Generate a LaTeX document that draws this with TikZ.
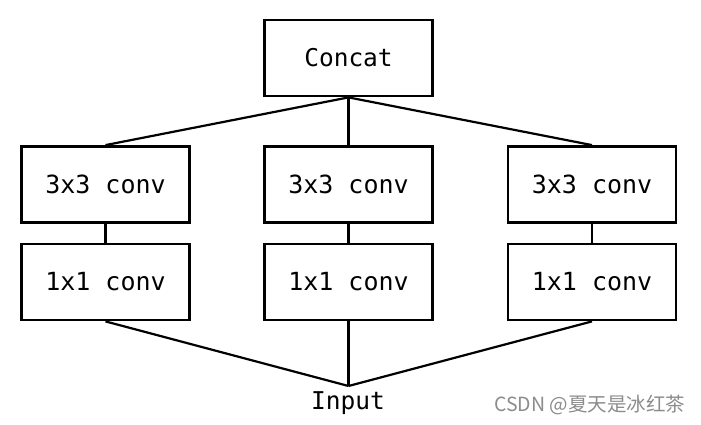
\documentclass[tikz,border=0pt]{standalone}
\usepackage{fontspec}
\setmonofont{DejaVu Sans Mono}
\newfontfamily\cjk{Noto Sans CJK SC}
\begin{document}
\begin{tikzpicture}[x=1pt,y=-1pt,
  blk/.style={draw=black, line width=2.8pt, minimum width=168pt, minimum height=76pt, inner sep=0pt, font=\ttfamily\fontsize{25}{28}\selectfont},
  conn/.style={draw=black, line width=2.2pt}]
\useasboundingbox (0,0) rectangle (701,425);
\fill[white] (0,0) rectangle (701,425);
\node[blk, font=\ttfamily\fontsize{24.5}{28}\selectfont] (cat) at (348.5,58) {Concat};
\node[blk] (l3) at (105.5,184.5) {3x3 conv};
\node[blk] (m3) at (348.5,184.5) {3x3 conv};
\node[blk] (r3) at (592,184.5) {3x3 conv};
\node[blk] (l1) at (105.5,282) {1x1 conv};
\node[blk] (m1) at (348.5,282) {1x1 conv};
\node[blk] (r1) at (592,282) {1x1 conv};
\coordinate (inpt) at (348.5,386);
\node[font=\ttfamily\fontsize{24.5}{28}\selectfont, inner sep=0pt] (input) at (348,403) {Input};
\node[font=\cjk\fontsize{19.5}{22}\selectfont, text=black!45, inner sep=0pt, anchor=west] (wm) at (494,405) {CSDN @夏天是冰红茶};
\draw[conn] (cat.south) -- (l3.north);
\draw[conn] (cat.south) -- (m3.north);
\draw[conn] (cat.south) -- (r3.north);
\draw[conn] (l3.south) -- (l1.north);
\draw[conn] (m3.south) -- (m1.north);
\draw[conn] (r3.south) -- (r1.north);
\draw[conn] (l1.south) -- (inpt);
\draw[conn] (m1.south) -- (inpt);
\draw[conn] (r1.south) -- (inpt);
\end{tikzpicture}
\end{document}
